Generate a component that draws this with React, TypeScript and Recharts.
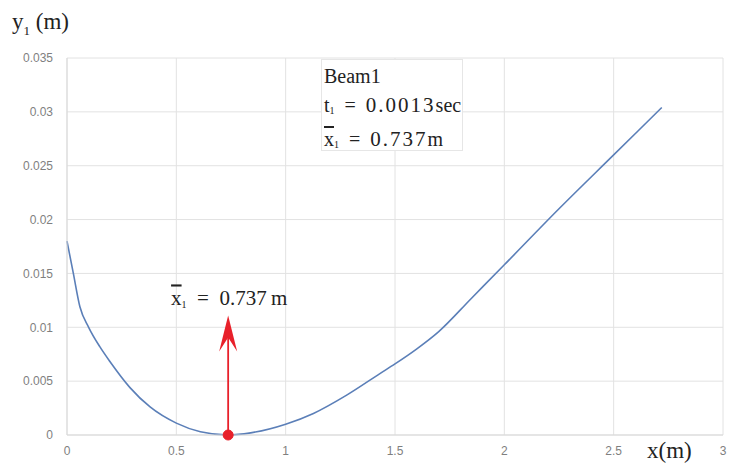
import React from "react";
import { LineChart, Line, XAxis, YAxis, CartesianGrid, ReferenceDot, ReferenceLine } from "recharts";

const xValues = [0, 0.029, 0.059, 0.099, 0.15, 0.197, 0.288, 0.38, 0.5, 0.61, 0.737, 0.84, 1.0, 1.127, 1.279, 1.431, 1.5, 1.6, 1.7, 1.85, 2.0, 2.25, 2.5, 2.72];
const yValues = [0.018, 0.015, 0.0119, 0.01, 0.0082, 0.0068, 0.0044, 0.0026, 0.0011, 0.0003, 0, 0.0002, 0.001, 0.002, 0.0037, 0.0057, 0.0066, 0.008, 0.0096, 0.0127, 0.0158, 0.021, 0.026, 0.0304];
const xTicks = [0, 0.5, 1, 1.5, 2, 2.5, 3];
const yTicks = [0, 0.005, 0.01, 0.015, 0.02, 0.025, 0.03, 0.035];
const xBar = 0.737;
const arrowTop = 0.0111;
const beamName = "Beam1";
const tValue = "0.0013";

const data = xValues.map((x, i) => ({ x, y: yValues[i] }));

const serif = "'Liberation Serif', 'Times New Roman', serif";

const Arrow = (props: any) => {
  const { x1, y1, x2, y2 } = props;
  const x = x1;
  const bottom = Math.max(y1, y2);
  const top = Math.min(y1, y2);
  return (
    <g>
      <line x1={x} y1={bottom} x2={x} y2={top + 6} stroke="#e8202a" strokeWidth={1.8} />
      <path
        d={`M ${x} ${top} L ${x + 9} ${top + 36} L ${x} ${top + 22} L ${x - 9} ${top + 36} Z`}
        fill="#e8202a"
      />
      <text x={x + 1} y={top - 10} textAnchor="middle" fontFamily={serif} fontSize={21} fill="#222">
        <tspan textDecoration="overline">x</tspan>
        <tspan fontSize={10} dy={3}>1</tspan>
        <tspan dy={-3}>{"\u2002=\u20020.737\u2009m"}</tspan>
      </text>
    </g>
  );
};

const subStyle: React.CSSProperties = { fontSize: 10, verticalAlign: "-2px" };
const numStyle: React.CSSProperties = { fontSize: 21, letterSpacing: 2 };

export default function App() {
  return (
    <div style={{ position: "absolute", left: 0, top: 0, width: 729, height: 463, background: "#fff" }}>
      <LineChart width={729} height={463} data={data} margin={{ top: 58, right: 6, bottom: 0, left: 0 }}>
        <CartesianGrid stroke="#e2e2e2" strokeWidth={1} />
        <XAxis
          dataKey="x"
          type="number"
          domain={[0, 3]}
          ticks={xTicks}
          height={28}
          tickSize={0}
          tickMargin={11}
          axisLine={{ stroke: "#d9d9d9" }}
          tick={{ fill: "#7f7f7f", fontSize: 12, fontFamily: "'Liberation Sans', Arial, sans-serif" }}
        />
        <YAxis
          type="number"
          domain={[0, 0.035]}
          ticks={yTicks}
          width={67}
          tickSize={0}
          tickMargin={14}
          axisLine={{ stroke: "#d9d9d9" }}
          tick={{ fill: "#7f7f7f", fontSize: 12, fontFamily: "'Liberation Sans', Arial, sans-serif" }}
        />
        <Line
          type="monotone"
          dataKey="y"
          stroke="#5b7fb8"
          strokeWidth={1.6}
          dot={false}
          isAnimationActive={false}
        />
        <ReferenceLine
          segment={[{ x: xBar, y: 0 }, { x: xBar, y: arrowTop }]}
          shape={Arrow}
          ifOverflow="visible"
        />
        <ReferenceDot x={xBar} y={0} r={5} fill="#e8202a" stroke="#e8202a" ifOverflow="visible" />
      </LineChart>
      <div style={{ position: "absolute", left: 12, top: 9, fontFamily: serif, fontSize: 23, color: "#222", whiteSpace: "nowrap" }}>
        y<sub style={{ fontSize: 13 }}>1</sub> (m)
      </div>
      <div style={{ position: "absolute", left: 647, top: 438, fontFamily: serif, fontSize: 23, color: "#222", whiteSpace: "nowrap" }}>
        x(m)
      </div>
      <div
        style={{
          position: "absolute",
          left: 321,
          top: 59,
          width: 142,
          height: 92,
          background: "#fff",
          border: "1px solid #e6e6e6",
          fontFamily: serif,
          fontSize: 20,
          color: "#222",
          lineHeight: "29px",
          paddingLeft: 2,
          paddingTop: 2,
          boxSizing: "border-box",
          whiteSpace: "nowrap",
        }}
      >
        <div>{beamName}</div>
        <div>
          t<sub style={subStyle}>1</sub>{"\u2002=\u2002"}<span style={numStyle}>{tValue}</span>sec
        </div>
        <div>
          <span style={{ textDecoration: "overline" }}>x</span>
          <sub style={subStyle}>1</sub>{"\u2002=\u2002"}<span style={numStyle}>0.737</span>m
        </div>
      </div>
    </div>
  );
}
